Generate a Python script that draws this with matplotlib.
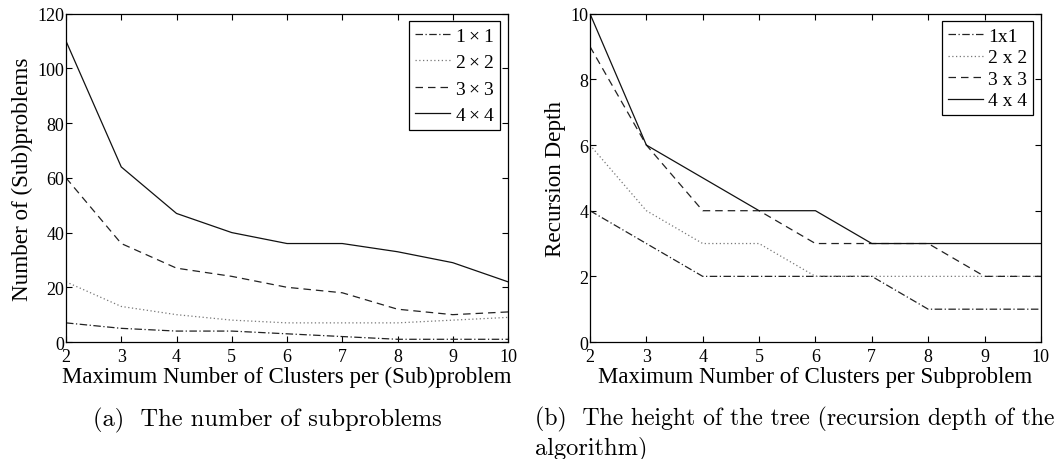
import matplotlib
matplotlib.use("Agg")
import matplotlib.pyplot as plt

clusters = [2, 3, 4, 5, 6, 7, 8, 9, 10]

# (a) number of (sub)problems
sub_1x1 = [7, 5, 4, 4, 3, 2, 1, 1, 1]
sub_2x2 = [22, 13, 10, 8, 7, 7, 7, 8, 9]
sub_3x3 = [60, 36, 27, 24, 20, 18, 12, 10, 11]
sub_4x4 = [110, 64, 47, 40, 36, 36, 33, 29, 22]
labels_a = [r"$1\times 1$", r"$2\times 2$", r"$3\times 3$", r"$4\times 4$"]

# (b) recursion depth
dep_1x1 = [4, 3, 2, 2, 2, 2, 1, 1, 1]
dep_2x2 = [6, 4, 3, 3, 2, 2, 2, 2, 2]
dep_3x3 = [9, 6, 4, 4, 3, 3, 3, 2, 2]
dep_4x4 = [10, 6, 5, 4, 4, 3, 3, 3, 3]
labels_b = ["1x1", "2 x 2", "3 x 3", "4 x 4"]

plt.rcParams['font.family'] = ['Liberation Serif', 'DejaVu Serif']
plt.rcParams['mathtext.fontset'] = 'custom'
plt.rcParams['mathtext.rm'] = 'Liberation Serif'

styles = [dict(ls=(0, (6, 2, 1, 2)), color='#222222'),
          dict(ls=(0, (1, 2)), color='#777777'),
          dict(ls=(0, (6, 4)), color='#222222'),
          dict(ls='-', color='#111111')]

fig = plt.figure(figsize=(10.56, 4.6), dpi=100)
axa = fig.add_axes([0.0625, 0.2543, 0.4186, 0.7137])
axb = fig.add_axes([0.5587, 0.2543, 0.427, 0.7137])

for ax, series, labels, ylim, yticks, ylabel, xlabel, lspace in [
    (axa, [sub_1x1, sub_2x2, sub_3x3, sub_4x4], labels_a, (0, 120), range(0, 121, 20),
     "Number of (Sub)problems", "Maximum Number of Clusters per (Sub)problem", 0.45),
    (axb, [dep_1x1, dep_2x2, dep_3x3, dep_4x4], labels_b, (0, 10), range(0, 11, 2),
     "Recursion Depth", "Maximum Number of Clusters per Subproblem", 0.2),
]:
    for s, lab, st in zip(series, labels, styles):
        ax.plot(clusters, s, lw=0.9, label=lab, **st)
    ax.set_xlim(2, 10)
    ax.set_ylim(*ylim)
    ax.set_xticks(clusters)
    ax.set_yticks(list(yticks))
    ax.tick_params(direction='in', top=True, right=True, labelsize=13, length=4, width=0.8)
    ax.tick_params(axis='y', pad=1)
    ax.tick_params(axis='x', pad=4)
    for sp in ax.spines.values():
        sp.set_linewidth(0.9)
    ax.set_ylabel(ylabel, fontsize=16.7, labelpad=3)
    ax.set_xlabel(xlabel, fontsize=16.5, labelpad=1)
    leg = ax.legend(loc='upper right', fontsize=14, frameon=True, fancybox=False,
                    edgecolor='black', framealpha=1, handlelength=1.8, handletextpad=0.25,
                    borderpad=0.3, labelspacing=lspace, borderaxespad=0.4)
    leg.get_frame().set_linewidth(0.9)

fig.text(0.088, 1 - 420.5 / 460, "(a)  The number of subproblems", fontsize=17.6,
         family='cmr10', va='center')
fig.text(0.5066, 1 - 419 / 460, "(b)  The height of the tree (recursion depth of the",
         fontsize=17.1, family='cmr10', va='center')
fig.text(0.5066, 1 - 449 / 460, "algorithm)", fontsize=17.6, family='cmr10', va='center')

fig.savefig("out.png", dpi=100)
